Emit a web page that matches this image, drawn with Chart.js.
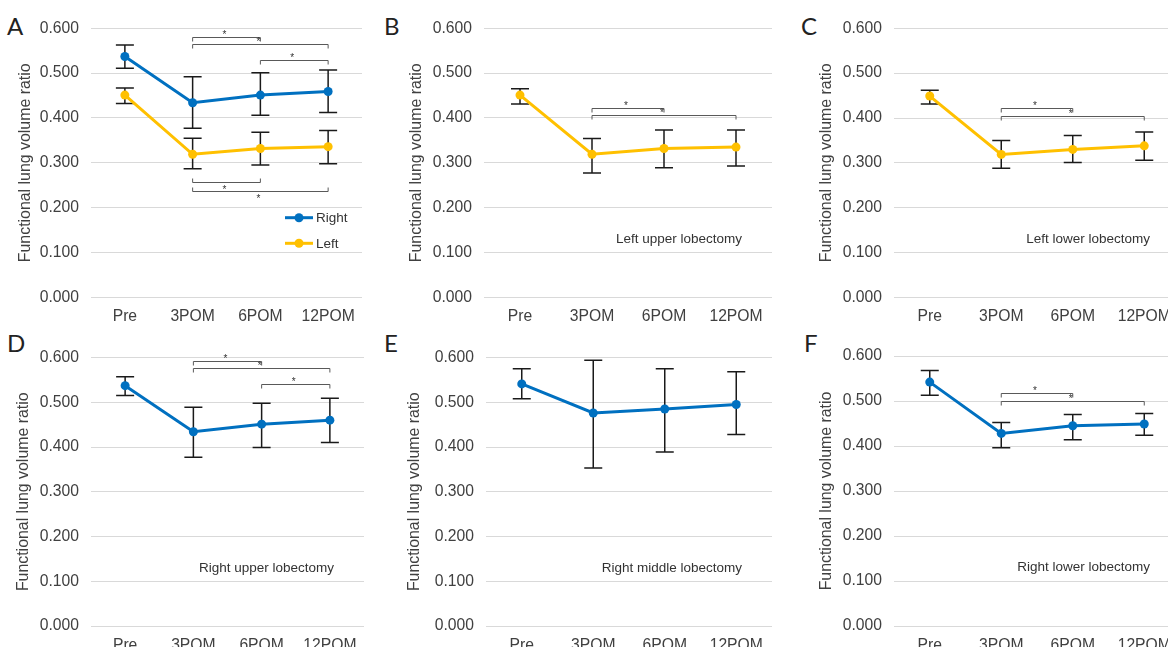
<!DOCTYPE html>
<html>
<head>
<meta charset="utf-8">
<title>Functional lung volume ratio after lobectomy</title>
<script src="https://cdn.jsdelivr.net/npm/chart.js@4.4.1/dist/chart.umd.min.js"></script>
<style>
  html, body { margin: 0; padding: 0; background: #fff; }
  body { width: 1168px; height: 647px; overflow: hidden; position: relative; }
  canvas { position: absolute; }
  .letter { position: absolute; font-family: Lato, "DejaVu Sans", sans-serif; font-size: 24px; line-height: 24px; color: #222; }
</style>
</head>
<body>
<div class="letter" style="left:7px;top:14px">A</div>
<div class="letter" style="left:384px;top:14px">B</div>
<div class="letter" style="left:801px;top:14px">C</div>
<div class="letter" style="left:7px;top:331px">D</div>
<div class="letter" style="left:384px;top:331px">E</div>
<div class="letter" style="left:804px;top:331px">F</div>

<canvas id="chartA"></canvas>
<canvas id="chartB"></canvas>
<canvas id="chartC"></canvas>
<canvas id="chartD"></canvas>
<canvas id="chartE"></canvas>
<canvas id="chartF"></canvas>

<script>
// ---- Daten ----
var timePoints = ['Pre', '3POM', '6POM', '12POM'];
var yTickLabels = ['0.000', '0.100', '0.200', '0.300', '0.400', '0.500', '0.600'];
var axisTitle = 'Functional lung volume ratio';

// A: alle Patienten, rechts / links
var rightAll = [0.537, 0.434, 0.451, 0.459];
var rightAllLow = [0.511, 0.377, 0.406, 0.412];
var rightAllHigh = [0.563, 0.492, 0.501, 0.507];
var leftAll = [0.451, 0.319, 0.332, 0.336];
var leftAllLow = [0.432, 0.287, 0.295, 0.298];
var leftAllHigh = [0.467, 0.355, 0.368, 0.372];

// B: left upper lobectomy
var leftUpper = [0.451, 0.319, 0.332, 0.335];
var leftUpperLow = [0.431, 0.277, 0.289, 0.293];
var leftUpperHigh = [0.465, 0.354, 0.373, 0.373];

// C: left lower lobectomy
var leftLower = [0.449, 0.319, 0.330, 0.338];
var leftLowerLow = [0.431, 0.288, 0.301, 0.306];
var leftLowerHigh = [0.462, 0.350, 0.361, 0.369];

// D: right upper lobectomy
var rightUpper = [0.537, 0.434, 0.451, 0.460];
var rightUpperLow = [0.515, 0.377, 0.399, 0.410];
var rightUpperHigh = [0.557, 0.489, 0.498, 0.509];

// E: right middle lobectomy
var rightMiddle = [0.541, 0.476, 0.485, 0.495];
var rightMiddleLow = [0.508, 0.353, 0.389, 0.428];
var rightMiddleHigh = [0.575, 0.594, 0.575, 0.568];

// F: right lower lobectomy
var rightLower = [0.542, 0.428, 0.445, 0.449];
var rightLowerLow = [0.513, 0.396, 0.414, 0.424];
var rightLowerHigh = [0.568, 0.452, 0.470, 0.472];

// Signifikanz-Klammern: [von, bis, Höhe, Seite]
var bracketsA = [[1, 2, 0.581, 'above'], [1, 3, 0.564, 'above'], [2, 3, 0.529, 'above'],
                 [1, 2, 0.257, 'below'], [1, 3, 0.238, 'below']];
var bracketsB = [[1, 2, 0.423, 'above'], [1, 3, 0.407, 'above']];
var bracketsC = [[1, 2, 0.422, 'above'], [1, 3, 0.404, 'above']];
var bracketsD = [[1, 2, 0.593, 'above'], [1, 3, 0.576, 'above'], [2, 3, 0.540, 'above']];
var bracketsE = [];
var bracketsF = [[1, 2, 0.517, 'above'], [1, 3, 0.500, 'above']];

var notes = ['', 'Left upper lobectomy', 'Left lower lobectomy',
             'Right upper lobectomy', 'Right middle lobectomy', 'Right lower lobectomy'];
var noteLevel = 0.13;

// ---- Stil ----
var BLUE = '#0070C0';
var YELLOW = '#FFC000';
var FONT = '"Liberation Sans", Arial, Helvetica, sans-serif';

function series(label, color, values, low, high) {
  return { label: label, color: color, values: values, low: low, high: high };
}

// Position der Diagramme (box = Canvas auf der Seite, area = Plotfläche im Canvas)
var panels = [
  { id: 'chartA', box: [0, 0, 390, 330], area: [91, 362, 28.3, 297.3], titleMid: 26, legend: true,
    series: [series('Right', BLUE, rightAll, rightAllLow, rightAllHigh),
             series('Left', YELLOW, leftAll, leftAllLow, leftAllHigh)],
    brackets: bracketsA, note: notes[0] },
  { id: 'chartB', box: [390, 0, 390, 330], area: [94, 382, 28.3, 297.3], titleMid: 26.5,
    series: [series('Left', YELLOW, leftUpper, leftUpperLow, leftUpperHigh)],
    brackets: bracketsB, note: notes[1] },
  { id: 'chartC', box: [780, 0, 410, 330], area: [114, 400, 28.3, 297.5], titleMid: 47,
    series: [series('Left', YELLOW, leftLower, leftLowerLow, leftLowerHigh)],
    brackets: bracketsC, note: notes[2] },
  { id: 'chartD', box: [0, 325, 390, 340], area: [91, 364, 32.5, 301], titleMid: 23.5,
    series: [series('Right', BLUE, rightUpper, rightUpperLow, rightUpperHigh)],
    brackets: bracketsD, note: notes[3] },
  { id: 'chartE', box: [390, 325, 390, 340], area: [96, 382, 32.5, 301], titleMid: 25,
    series: [series('Right', BLUE, rightMiddle, rightMiddleLow, rightMiddleHigh)],
    brackets: bracketsE, note: notes[4] },
  { id: 'chartF', box: [780, 325, 410, 340], area: [114, 400, 31, 301], titleMid: 47,
    series: [series('Right', BLUE, rightLower, rightLowerLow, rightLowerHigh)],
    brackets: bracketsF, note: notes[5] }
];

// Fehlerbalken, Klammern, Beschriftung und Legende zeichnen
function makeExtras(panel) {
  return {
    id: 'extras',
    beforeDatasetsDraw: function (chart) {
      var ctx = chart.ctx;
      var y = chart.scales.y;
      ctx.save();
      ctx.strokeStyle = '#1a1a1a';
      ctx.lineWidth = 1.5;
      panel.series.forEach(function (s, i) {
        var meta = chart.getDatasetMeta(i);
        meta.data.forEach(function (pt, j) {
          var yl = y.getPixelForValue(s.low[j]);
          var yh = y.getPixelForValue(s.high[j]);
          ctx.beginPath();
          ctx.moveTo(pt.x, yl); ctx.lineTo(pt.x, yh);
          ctx.moveTo(pt.x - 9, yl); ctx.lineTo(pt.x + 9, yl);
          ctx.moveTo(pt.x - 9, yh); ctx.lineTo(pt.x + 9, yh);
          ctx.stroke();
        });
      });
      ctx.restore();
    },
    afterDatasetsDraw: function (chart) {
      var ctx = chart.ctx;
      var x = chart.scales.x, y = chart.scales.y;
      var area = chart.chartArea;
      ctx.save();

      // Klammern mit Sternchen
      ctx.strokeStyle = '#595959';
      ctx.lineWidth = 1;
      ctx.fillStyle = '#333';
      ctx.font = '10px ' + FONT;
      ctx.textAlign = 'center';
      ctx.textBaseline = 'alphabetic';
      panel.brackets.forEach(function (b) {
        var x1 = x.getPixelForValue(b[0]);
        var x2 = x.getPixelForValue(b[1]);
        var yy = Math.round(y.getPixelForValue(b[2])) + 0.5;
        var dir = b[3] === 'above' ? 4 : -4;
        ctx.beginPath();
        ctx.moveTo(x1, yy + dir); ctx.lineTo(x1, yy); ctx.lineTo(x2, yy); ctx.lineTo(x2, yy + dir);
        ctx.stroke();
        var starY = b[3] === 'above' ? yy + 0.5 : yy + 10;
        ctx.fillText('*', (x1 + x2) / 2 - 2, starY);
      });

      // Name der Operation
      if (panel.note) {
        ctx.font = '13.5px ' + FONT;
        ctx.fillStyle = '#333';
        ctx.textAlign = 'right';
        ctx.textBaseline = 'middle';
        ctx.fillText(panel.note, area.right - 30, y.getPixelForValue(noteLevel));
      }

      // Legende im Diagramm (nur A)
      if (panel.legend) {
        ctx.font = '13.5px ' + FONT;
        ctx.textAlign = 'left';
        ctx.textBaseline = 'middle';
        panel.series.forEach(function (s, k) {
          var lx = area.right - 77;
          var ly = area.bottom - 79.6 + k * 25.6;
          ctx.strokeStyle = s.color;
          ctx.lineWidth = 3;
          ctx.beginPath();
          ctx.moveTo(lx, ly); ctx.lineTo(lx + 28, ly);
          ctx.stroke();
          ctx.fillStyle = s.color;
          ctx.beginPath();
          ctx.arc(lx + 14, ly, 4.5, 0, Math.PI * 2);
          ctx.fill();
          ctx.fillStyle = '#333';
          ctx.fillText(s.label, lx + 31, ly + 0.5);
        });
      }
      ctx.restore();
    }
  };
}

function buildChart(panel) {
  var canvas = document.getElementById(panel.id);
  var w = panel.box[2], h = panel.box[3];
  canvas.width = w;
  canvas.height = h;
  canvas.style.left = panel.box[0] + 'px';
  canvas.style.top = panel.box[1] + 'px';

  var areaL = panel.area[0], areaR = panel.area[1], areaT = panel.area[2], areaB = panel.area[3];

  var datasets = panel.series.map(function (s) {
    return {
      label: s.label,
      data: s.values,
      borderColor: s.color,
      backgroundColor: s.color,
      borderWidth: 3,
      pointRadius: 4.5,
      pointBorderWidth: 0,
      pointBackgroundColor: s.color,
      tension: 0
    };
  });

  return new Chart(canvas.getContext('2d'), {
    type: 'line',
    data: { labels: timePoints, datasets: datasets },
    options: {
      responsive: false,
      animation: false,
      events: [],
      layout: { padding: { left: 0, right: w - areaR, top: areaT, bottom: 0 } },
      plugins: { legend: { display: false }, tooltip: { enabled: false } },
      scales: {
        x: {
          offset: true,
          grid: { display: false },
          border: { display: false },
          ticks: { padding: 2, color: '#404040', font: { size: 15.7, family: FONT }, maxRotation: 0, autoSkip: false },
          afterFit: function (scale) { scale.height = h - areaB; }
        },
        y: {
          min: 0,
          max: 0.6,
          grid: { color: '#d9d9d9', lineWidth: 1, drawTicks: false },
          border: { display: false },
          ticks: {
            stepSize: 0.1,
            padding: 12,
            color: '#404040',
            font: { size: 15.7, family: FONT },
            callback: function (value, index) { return yTickLabels[index]; }
          },
          title: {
            display: true,
            text: axisTitle,
            color: '#404040',
            font: { size: 15.9, family: FONT },
            padding: { top: panel.titleMid - 9.5, bottom: 0 }
          },
          afterFit: function (scale) { scale.width = areaL; }
        }
      }
    },
    plugins: [makeExtras(panel)]
  });
}

panels.forEach(buildChart);
</script>
</body>
</html>
